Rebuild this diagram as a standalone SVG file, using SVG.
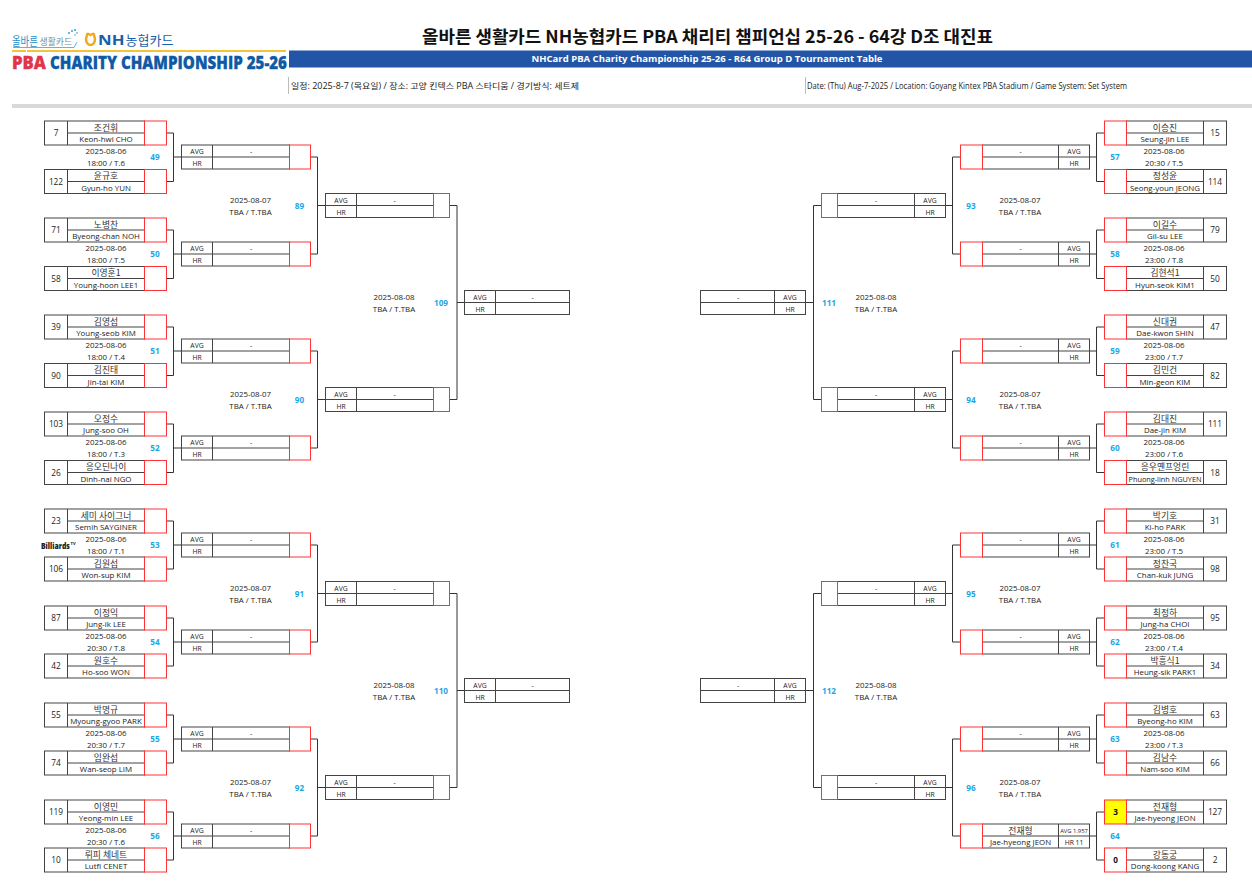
<svg xmlns="http://www.w3.org/2000/svg" xmlns:xlink="http://www.w3.org/1999/xlink" width="1252" height="896" viewBox="0 0 1252 896">
<style>
text{font-family:"Open Sans","Noto Sans CJK KR",sans-serif;fill:#222;text-anchor:middle}
.k{font-family:"Noto Sans CJK KR","Open Sans",sans-serif;font-size:8.8px;fill:#333}
.e{font-size:7.9px}
.s{font-size:8.3px}
.d{font-size:7.9px}
.a{font-size:6.8px}
.b{font-size:8.2px;font-weight:700;fill:#1ca6e6}
.w{font-weight:700;font-size:8.2px;fill:#111}
.f{fill:#fff;stroke:#444;stroke-width:1}
.r{fill:none;stroke:#f33;stroke-width:1}
.l{fill:none;stroke:#444;stroke-width:1}
.c{fill:none;stroke:#333;stroke-width:1}
.t{text-anchor:start}
</style>
<defs>
<g id="pl"><rect class="f" width="100" height="24"/><path class="l" d="M23 0V24M23 12H100"/><rect class="r" x="100" width="22" height="24"/></g>
<g id="pr"><rect class="f" x="22" width="100" height="24"/><path class="l" d="M99 0V24M22 12H99"/><rect class="r" width="22" height="24"/></g>
<g id="r32l"><rect class="f" width="108" height="24"/><path class="l" d="M31 0V24M0 12H108"/><rect class="r" x="108" width="21" height="24"/></g>
<g id="r32r"><rect class="f" x="22" width="107" height="24"/><path class="l" d="M98 0V24M22 12H129"/><rect class="r" width="22" height="24"/></g>
<g id="r16l"><rect class="f" width="108" height="24"/><path class="l" d="M31 0V24M0 12H108"/><rect class="r" x="108" width="16" height="24"/></g>
<g id="r16r"><rect class="f" x="16" width="108" height="24"/><path class="l" d="M93 0V24M16 12H124"/><rect class="r" width="16" height="24"/></g>
<g id="qfl"><rect class="f" width="105" height="24"/><path class="l" d="M31 0V24M0 12H105"/></g>
<g id="qfr"><rect class="f" width="105" height="24"/><path class="l" d="M74 0V24M0 12H105"/></g>
</defs>
<rect width="1252" height="896" fill="#fff"/>

<g id="header">
<text class="t" transform="translate(12,46) scale(.75,1)" style="font-family:'Noto Sans CJK KR',sans-serif;font-size:12.500px;fill:#2a8fc9">올바른</text>
<text class="t" x="39.500" y="45" style="font-family:'Noto Sans CJK KR',sans-serif;font-size:8.900px;fill:#6d8fa8">생활카드</text>
<path d="M13 47.500H74L77 42" fill="none" stroke="#2a8fc9" stroke-width=".7"/>
<g fill="#2a8fc9"><circle cx="69" cy="33" r=".9"/><circle cx="72" cy="31" r=".9"/><circle cx="75" cy="30" r=".9"/><circle cx="77" cy="33" r=".8"/><circle cx="75" cy="35" r=".7"/></g>
<path d="M87 35C87 33 89 34 90.500 35C92 34 94 33 94 35L95 39A4.500 6 0 0 1 86 39Z" fill="none" stroke="#f5a81c" stroke-width="2.500"/>
<text class="t" transform="translate(98,45) scale(1.2,1)" style="font-size:14px;font-weight:700;fill:#1a5fa8">NH</text>
<text class="t" x="125.500" y="45" style="font-family:'Noto Sans CJK KR',sans-serif;font-size:13px;fill:#1a5fa8">농협카드</text>
<path d="M12 51H26M27 51H286" stroke="#f3c33c" stroke-width="2" fill="none"/>
<text class="t" x="12" y="69" textLength="34" lengthAdjust="spacingAndGlyphs" style="font-size:17.500px;font-weight:800;fill:#e0344a;stroke:#e0344a;stroke-width:.3">PBA</text>
<text class="t" x="50" y="69" textLength="237" lengthAdjust="spacingAndGlyphs" style="font-size:17.500px;font-weight:800;fill:#0f5aa5;stroke:#0f5aa5;stroke-width:.3">CHARITY CHAMPIONSHIP 25-26</text>
<text class="t" x="422" y="43" textLength="571" lengthAdjust="spacingAndGlyphs" style="font-family:'Noto Sans CJK KR',sans-serif;font-size:17.500px;font-weight:700;fill:#111">올바른 생활카드 NH농협카드 PBA 채리티 챔피언십 25-26 - 64강 D조 대진표</text>
<rect x="289" y="50.500" width="963" height="17" fill="#2255a5"/>
<text x="707" y="62" textLength="351" lengthAdjust="spacingAndGlyphs" style="font-size:9px;font-weight:700;fill:#fff">NHCard PBA Charity Championship 25-26 - R64 Group D Tournament Table</text>
<rect x="288" y="77" width="1" height="17" fill="#bbb"/>
<text class="t" x="291" y="89" textLength="288" lengthAdjust="spacingAndGlyphs" style="font-size:8.200px">일정: 2025-8-7 (목요일) / 장소: 고양 킨텍스 PBA 스타디움 / 경기방식: 세트제</text>
<rect x="805" y="77" width="1" height="17" fill="#bbb"/>
<text class="t" x="807" y="89" textLength="320" lengthAdjust="spacingAndGlyphs" style="font-size:8.200px">Date: (Thu) Aug-7-2025 / Location: Goyang Kintex PBA Stadium / Game System: Set System</text>
<rect x="12" y="104" width="1240" height="4" fill="#d9d9d9"/>
</g>

<g id="connectors">
<path class="c" d="M166 133H173.500V181.500H166M173.500 157H181M166 230H173.500V278.500H166M173.500 254H181M166 327H173.500V375.500H166M173.500 351H181M166 424H173.500V472.500H166M173.500 448H181M166 521H173.500V569H166M173.500 545H181M166 618H173.500V666H166M173.500 642H181M166 715H173.500V763H166M173.500 739H181M166 812H173.500V860H166M173.500 836H181"/>
<path class="c" d="M310 157H317.500V254H310M317.500 205.500H325M310 351H317.500V448H310M317.500 399.500H325M310 545H317.500V642H310M317.500 593.500H325M310 739H317.500V836H310M317.500 787.500H325"/>
<path class="c" d="M449 205.500H457V399.500H449M457 302.500H464M449 593.500H457V787.500H449M457 690.500H464"/>
<path class="c" d="M1104 133H1096.500V181.500H1104M1096.500 157H1089M1104 230H1096.500V278.500H1104M1096.500 254H1089M1104 327H1096.500V375.500H1104M1096.500 351H1089M1104 424H1096.500V472.500H1104M1096.500 448H1089M1104 521H1096.500V569H1104M1096.500 545H1089M1104 618H1096.500V666H1104M1096.500 642H1089M1104 715H1096.500V763H1104M1096.500 739H1089M1104 812H1096.500V860H1104M1096.500 836H1089"/>
<path class="c" d="M960 157H952.500V254H960M952.500 205.500H945M960 351H952.500V448H960M952.500 399.500H945M960 545H952.500V642H960M952.500 593.500H945M960 739H952.500V836H960M952.500 787.500H945"/>
<path class="c" d="M821 205.500H813.500V399.500H821M813.500 302.500H806M821 593.500H813.500V787.500H821M813.500 690.500H806"/>
</g>

<g id="players-left">
<g id="p7" transform="translate(44.500,121)"><use href="#pl"/><text class="s" x="11.500" y="15">7</text><text class="k" x="61.500" y="9.500">조건휘</text><text class="e" x="61.500" y="21">Keon-hwi CHO</text></g>
<g id="p122" transform="translate(44.500,169.500)"><use href="#pl"/><text class="s" x="11.500" y="15">122</text><text class="k" x="61.500" y="9.500">윤규호</text><text class="e" x="61.500" y="21">Gyun-ho YUN</text></g>
<g id="p71" transform="translate(44.500,218)"><use href="#pl"/><text class="s" x="11.500" y="15">71</text><text class="k" x="61.500" y="9.500">노병찬</text><text class="e" x="61.500" y="21">Byeong-chan NOH</text></g>
<g id="p58" transform="translate(44.500,266.500)"><use href="#pl"/><text class="s" x="11.500" y="15">58</text><text class="k" x="61.500" y="9.500">이영훈1</text><text class="e" x="61.500" y="21">Young-hoon LEE1</text></g>
<g id="p39" transform="translate(44.500,315)"><use href="#pl"/><text class="s" x="11.500" y="15">39</text><text class="k" x="61.500" y="9.500">김영섭</text><text class="e" x="61.500" y="21">Young-seob KIM</text></g>
<g id="p90" transform="translate(44.500,363.500)"><use href="#pl"/><text class="s" x="11.500" y="15">90</text><text class="k" x="61.500" y="9.500">김진태</text><text class="e" x="61.500" y="21">Jin-tai KIM</text></g>
<g id="p103" transform="translate(44.500,412)"><use href="#pl"/><text class="s" x="11.500" y="15">103</text><text class="k" x="61.500" y="9.500">오정수</text><text class="e" x="61.500" y="21">Jung-soo OH</text></g>
<g id="p26" transform="translate(44.500,460.500)"><use href="#pl"/><text class="s" x="11.500" y="15">26</text><text class="k" x="61.500" y="9.500">응오딘나이</text><text class="e" x="61.500" y="21">Dinh-nai NGO</text></g>
<g id="p23" transform="translate(44.500,509)"><use href="#pl"/><text class="s" x="11.500" y="15">23</text><text class="k" x="61.500" y="9.500">세미 사이그너</text><text class="e" x="61.500" y="21">Semih SAYGINER</text></g>
<g id="p106" transform="translate(44.500,557)"><use href="#pl"/><text class="s" x="11.500" y="15">106</text><text class="k" x="61.500" y="9.500">김원섭</text><text class="e" x="61.500" y="21">Won-sup KIM</text></g>
<g id="p87" transform="translate(44.500,606)"><use href="#pl"/><text class="s" x="11.500" y="15">87</text><text class="k" x="61.500" y="9.500">이정익</text><text class="e" x="61.500" y="21">Jung-ik LEE</text></g>
<g id="p42" transform="translate(44.500,654)"><use href="#pl"/><text class="s" x="11.500" y="15">42</text><text class="k" x="61.500" y="9.500">원호수</text><text class="e" x="61.500" y="21">Ho-soo WON</text></g>
<g id="p55" transform="translate(44.500,703)"><use href="#pl"/><text class="s" x="11.500" y="15">55</text><text class="k" x="61.500" y="9.500">박명규</text><text class="e" x="61.500" y="21">Myoung-gyoo PARK</text></g>
<g id="p74" transform="translate(44.500,751)"><use href="#pl"/><text class="s" x="11.500" y="15">74</text><text class="k" x="61.500" y="9.500">임완섭</text><text class="e" x="61.500" y="21">Wan-seop LIM</text></g>
<g id="p119" transform="translate(44.500,800)"><use href="#pl"/><text class="s" x="11.500" y="15">119</text><text class="k" x="61.500" y="9.500">이영민</text><text class="e" x="61.500" y="21">Yeong-min LEE</text></g>
<g id="p10" transform="translate(44.500,848)"><use href="#pl"/><text class="s" x="11.500" y="15">10</text><text class="k" x="61.500" y="9.500">뤼피 체네트</text><text class="e" x="61.500" y="21">Lutfi CENET</text></g>
</g>

<g id="players-right">
<g id="p15" transform="translate(1104.500,121)"><use href="#pr"/><text class="s" x="110.500" y="15">15</text><text class="k" x="60.500" y="9.500">이승진</text><text class="e" x="60.500" y="21">Seung-jin LEE</text></g>
<g id="p114" transform="translate(1104.500,169.500)"><use href="#pr"/><text class="s" x="110.500" y="15">114</text><text class="k" x="60.500" y="9.500">정성윤</text><text class="e" x="60.500" y="21">Seong-youn JEONG</text></g>
<g id="p79" transform="translate(1104.500,218)"><use href="#pr"/><text class="s" x="110.500" y="15">79</text><text class="k" x="60.500" y="9.500">이길수</text><text class="e" x="60.500" y="21">Gil-su LEE</text></g>
<g id="p50" transform="translate(1104.500,266.500)"><use href="#pr"/><text class="s" x="110.500" y="15">50</text><text class="k" x="60.500" y="9.500">김현석1</text><text class="e" x="60.500" y="21">Hyun-seok KIM1</text></g>
<g id="p47" transform="translate(1104.500,315)"><use href="#pr"/><text class="s" x="110.500" y="15">47</text><text class="k" x="60.500" y="9.500">신대권</text><text class="e" x="60.500" y="21">Dae-kwon SHIN</text></g>
<g id="p82" transform="translate(1104.500,363.500)"><use href="#pr"/><text class="s" x="110.500" y="15">82</text><text class="k" x="60.500" y="9.500">김민건</text><text class="e" x="60.500" y="21">Min-geon KIM</text></g>
<g id="p111" transform="translate(1104.500,412)"><use href="#pr"/><text class="s" x="110.500" y="15">111</text><text class="k" x="60.500" y="9.500">김대진</text><text class="e" x="60.500" y="21">Dae-jin KIM</text></g>
<g id="p18" transform="translate(1104.500,460.500)"><use href="#pr"/><text class="s" x="110.500" y="15">18</text><text class="k" x="60.500" y="9.500">응우옌프엉린</text><text class="e" x="60.500" y="21" textLength="73" lengthAdjust="spacingAndGlyphs">Phuong-linh NGUYEN</text></g>
<g id="p31" transform="translate(1104.500,509)"><use href="#pr"/><text class="s" x="110.500" y="15">31</text><text class="k" x="60.500" y="9.500">박기호</text><text class="e" x="60.500" y="21">Ki-ho PARK</text></g>
<g id="p98" transform="translate(1104.500,557)"><use href="#pr"/><text class="s" x="110.500" y="15">98</text><text class="k" x="60.500" y="9.500">정찬국</text><text class="e" x="60.500" y="21">Chan-kuk JUNG</text></g>
<g id="p95" transform="translate(1104.500,606)"><use href="#pr"/><text class="s" x="110.500" y="15">95</text><text class="k" x="60.500" y="9.500">최정하</text><text class="e" x="60.500" y="21">Jung-ha CHOI</text></g>
<g id="p34" transform="translate(1104.500,654)"><use href="#pr"/><text class="s" x="110.500" y="15">34</text><text class="k" x="60.500" y="9.500">박흥식1</text><text class="e" x="60.500" y="21">Heung-sik PARK1</text></g>
<g id="p63" transform="translate(1104.500,703)"><use href="#pr"/><text class="s" x="110.500" y="15">63</text><text class="k" x="60.500" y="9.500">김병호</text><text class="e" x="60.500" y="21">Byeong-ho KIM</text></g>
<g id="p66" transform="translate(1104.500,751)"><use href="#pr"/><text class="s" x="110.500" y="15">66</text><text class="k" x="60.500" y="9.500">김남수</text><text class="e" x="60.500" y="21">Nam-soo KIM</text></g>
<g id="p127" transform="translate(1104.500,800)"><rect width="22" height="24" fill="#ff0"/><use href="#pr"/><text class="w" x="11" y="15">3</text><text class="s" x="110.500" y="15">127</text><text class="k" x="60.500" y="9.500">전재형</text><text class="e" x="60.500" y="21">Jae-hyeong JEON</text></g>
<g id="p2" transform="translate(1104.500,848)"><use href="#pr"/><text class="w" x="11" y="15">0</text><text class="s" x="110.500" y="15">2</text><text class="k" x="60.500" y="9.500">강동궁</text><text class="e" x="60.500" y="21">Dong-koong KANG</text></g>
</g>

<g id="round32-left">
<g id="m49" transform="translate(181.500,145)"><use href="#r32l"/><text class="a" x="15.500" y="9">AVG</text><text class="a" x="15.500" y="21">HR</text><text class="a" x="69.500" y="9">-</text><text class="d" x="-75.500" y="9">2025-08-06</text><text class="d" x="-75.500" y="21">18:00 / T.6</text><text class="b" x="-26.500" y="15">49</text></g>
<g id="m50" transform="translate(181.500,242)"><use href="#r32l"/><text class="a" x="15.500" y="9">AVG</text><text class="a" x="15.500" y="21">HR</text><text class="a" x="69.500" y="9">-</text><text class="d" x="-75.500" y="9">2025-08-06</text><text class="d" x="-75.500" y="21">18:00 / T.5</text><text class="b" x="-26.500" y="15">50</text></g>
<g id="m51" transform="translate(181.500,339)"><use href="#r32l"/><text class="a" x="15.500" y="9">AVG</text><text class="a" x="15.500" y="21">HR</text><text class="a" x="69.500" y="9">-</text><text class="d" x="-75.500" y="9">2025-08-06</text><text class="d" x="-75.500" y="21">18:00 / T.4</text><text class="b" x="-26.500" y="15">51</text></g>
<g id="m52" transform="translate(181.500,436)"><use href="#r32l"/><text class="a" x="15.500" y="9">AVG</text><text class="a" x="15.500" y="21">HR</text><text class="a" x="69.500" y="9">-</text><text class="d" x="-75.500" y="9">2025-08-06</text><text class="d" x="-75.500" y="21">18:00 / T.3</text><text class="b" x="-26.500" y="15">52</text></g>
<g id="m53" transform="translate(181.500,533)"><use href="#r32l"/><text class="a" x="15.500" y="9">AVG</text><text class="a" x="15.500" y="21">HR</text><text class="a" x="69.500" y="9">-</text><text class="d" x="-75.500" y="9">2025-08-06</text><text class="d" x="-75.500" y="21">18:00 / T.1</text><text class="b" x="-26.500" y="15">53</text></g>
<g id="m54" transform="translate(181.500,630)"><use href="#r32l"/><text class="a" x="15.500" y="9">AVG</text><text class="a" x="15.500" y="21">HR</text><text class="a" x="69.500" y="9">-</text><text class="d" x="-75.500" y="9">2025-08-06</text><text class="d" x="-75.500" y="21">20:30 / T.8</text><text class="b" x="-26.500" y="15">54</text></g>
<g id="m55" transform="translate(181.500,727)"><use href="#r32l"/><text class="a" x="15.500" y="9">AVG</text><text class="a" x="15.500" y="21">HR</text><text class="a" x="69.500" y="9">-</text><text class="d" x="-75.500" y="9">2025-08-06</text><text class="d" x="-75.500" y="21">20:30 / T.7</text><text class="b" x="-26.500" y="15">55</text></g>
<g id="m56" transform="translate(181.500,824)"><use href="#r32l"/><text class="a" x="15.500" y="9">AVG</text><text class="a" x="15.500" y="21">HR</text><text class="a" x="69.500" y="9">-</text><text class="d" x="-75.500" y="9">2025-08-06</text><text class="d" x="-75.500" y="21">20:30 / T.6</text><text class="b" x="-26.500" y="15">56</text></g>
</g>

<g id="round32-right">
<g id="m57" transform="translate(960.500,145)"><use href="#r32r"/><text class="a" x="113.500" y="9">AVG</text><text class="a" x="113.500" y="21">HR</text><text class="a" x="60" y="9">-</text><text class="d" x="203.500" y="9">2025-08-06</text><text class="d" x="203.500" y="21">20:30 / T.5</text><text class="b" x="154.500" y="15">57</text></g>
<g id="m58" transform="translate(960.500,242)"><use href="#r32r"/><text class="a" x="113.500" y="9">AVG</text><text class="a" x="113.500" y="21">HR</text><text class="a" x="60" y="9">-</text><text class="d" x="203.500" y="9">2025-08-06</text><text class="d" x="203.500" y="21">23:00 / T.8</text><text class="b" x="154.500" y="15">58</text></g>
<g id="m59" transform="translate(960.500,339)"><use href="#r32r"/><text class="a" x="113.500" y="9">AVG</text><text class="a" x="113.500" y="21">HR</text><text class="a" x="60" y="9">-</text><text class="d" x="203.500" y="9">2025-08-06</text><text class="d" x="203.500" y="21">23:00 / T.7</text><text class="b" x="154.500" y="15">59</text></g>
<g id="m60" transform="translate(960.500,436)"><use href="#r32r"/><text class="a" x="113.500" y="9">AVG</text><text class="a" x="113.500" y="21">HR</text><text class="a" x="60" y="9">-</text><text class="d" x="203.500" y="9">2025-08-06</text><text class="d" x="203.500" y="21">23:00 / T.6</text><text class="b" x="154.500" y="15">60</text></g>
<g id="m61" transform="translate(960.500,533)"><use href="#r32r"/><text class="a" x="113.500" y="9">AVG</text><text class="a" x="113.500" y="21">HR</text><text class="a" x="60" y="9">-</text><text class="d" x="203.500" y="9">2025-08-06</text><text class="d" x="203.500" y="21">23:00 / T.5</text><text class="b" x="154.500" y="15">61</text></g>
<g id="m62" transform="translate(960.500,630)"><use href="#r32r"/><text class="a" x="113.500" y="9">AVG</text><text class="a" x="113.500" y="21">HR</text><text class="a" x="60" y="9">-</text><text class="d" x="203.500" y="9">2025-08-06</text><text class="d" x="203.500" y="21">23:00 / T.4</text><text class="b" x="154.500" y="15">62</text></g>
<g id="m63" transform="translate(960.500,727)"><use href="#r32r"/><text class="a" x="113.500" y="9">AVG</text><text class="a" x="113.500" y="21">HR</text><text class="a" x="60" y="9">-</text><text class="d" x="203.500" y="9">2025-08-06</text><text class="d" x="203.500" y="21">23:00 / T.3</text><text class="b" x="154.500" y="15">63</text></g>
<g id="m64" transform="translate(960.500,824)"><use href="#r32r"/><text class="a" x="113.500" y="9" style="font-size:5.800px">AVG 1.957</text><text class="a" x="113.500" y="21">HR 11</text><text class="k" x="60" y="9.500">전재형</text><text class="e" x="60" y="21">Jae-hyeong JEON</text><text class="b" x="154.500" y="15">64</text></g>
</g>

<g id="round16-left">
<g id="m89" transform="translate(325.500,193.500)"><use href="#r16l"/><text class="a" x="15.500" y="9">AVG</text><text class="a" x="15.500" y="21">HR</text><text class="a" x="69" y="9">-</text><text class="d" x="-75" y="9.500">2025-08-07</text><text class="d" x="-75" y="21.500">TBA / T.TBA</text><text class="b" x="-26" y="15.500">89</text></g>
<g id="m90" transform="translate(325.500,387.500)"><use href="#r16l"/><text class="a" x="15.500" y="9">AVG</text><text class="a" x="15.500" y="21">HR</text><text class="a" x="69" y="9">-</text><text class="d" x="-75" y="9.500">2025-08-07</text><text class="d" x="-75" y="21.500">TBA / T.TBA</text><text class="b" x="-26" y="15.500">90</text></g>
<g id="m91" transform="translate(325.500,581.500)"><use href="#r16l"/><text class="a" x="15.500" y="9">AVG</text><text class="a" x="15.500" y="21">HR</text><text class="a" x="69" y="9">-</text><text class="d" x="-75" y="9.500">2025-08-07</text><text class="d" x="-75" y="21.500">TBA / T.TBA</text><text class="b" x="-26" y="15.500">91</text></g>
<g id="m92" transform="translate(325.500,775.500)"><use href="#r16l"/><text class="a" x="15.500" y="9">AVG</text><text class="a" x="15.500" y="21">HR</text><text class="a" x="69" y="9">-</text><text class="d" x="-75" y="9.500">2025-08-07</text><text class="d" x="-75" y="21.500">TBA / T.TBA</text><text class="b" x="-26" y="15.500">92</text></g>
</g>

<g id="round16-right">
<g id="m93" transform="translate(821.500,193.500)"><use href="#r16r"/><text class="a" x="108.500" y="9">AVG</text><text class="a" x="108.500" y="21">HR</text><text class="a" x="54.500" y="9">-</text><text class="d" x="198.500" y="9.500">2025-08-07</text><text class="d" x="198.500" y="21.500">TBA / T.TBA</text><text class="b" x="149.500" y="15.500">93</text></g>
<g id="m94" transform="translate(821.500,387.500)"><use href="#r16r"/><text class="a" x="108.500" y="9">AVG</text><text class="a" x="108.500" y="21">HR</text><text class="a" x="54.500" y="9">-</text><text class="d" x="198.500" y="9.500">2025-08-07</text><text class="d" x="198.500" y="21.500">TBA / T.TBA</text><text class="b" x="149.500" y="15.500">94</text></g>
<g id="m95" transform="translate(821.500,581.500)"><use href="#r16r"/><text class="a" x="108.500" y="9">AVG</text><text class="a" x="108.500" y="21">HR</text><text class="a" x="54.500" y="9">-</text><text class="d" x="198.500" y="9.500">2025-08-07</text><text class="d" x="198.500" y="21.500">TBA / T.TBA</text><text class="b" x="149.500" y="15.500">95</text></g>
<g id="m96" transform="translate(821.500,775.500)"><use href="#r16r"/><text class="a" x="108.500" y="9">AVG</text><text class="a" x="108.500" y="21">HR</text><text class="a" x="54.500" y="9">-</text><text class="d" x="198.500" y="9.500">2025-08-07</text><text class="d" x="198.500" y="21.500">TBA / T.TBA</text><text class="b" x="149.500" y="15.500">96</text></g>
</g>

<g id="round8">
<g id="m109" transform="translate(464.500,290.500)"><use href="#qfl"/><text class="a" x="15.500" y="9">AVG</text><text class="a" x="15.500" y="21">HR</text><text class="a" x="68" y="9">-</text><text class="d" x="-70.500" y="9.500">2025-08-08</text><text class="d" x="-70.500" y="21.500">TBA / T.TBA</text><text class="b" x="-23.500" y="15.500">109</text></g>
<g id="m110" transform="translate(464.500,678.500)"><use href="#qfl"/><text class="a" x="15.500" y="9">AVG</text><text class="a" x="15.500" y="21">HR</text><text class="a" x="68" y="9">-</text><text class="d" x="-70.500" y="9.500">2025-08-08</text><text class="d" x="-70.500" y="21.500">TBA / T.TBA</text><text class="b" x="-23.500" y="15.500">110</text></g>
<g id="m111" transform="translate(700.500,290.500)"><use href="#qfr"/><text class="a" x="89.500" y="9">AVG</text><text class="a" x="89.500" y="21">HR</text><text class="a" x="37.500" y="9">-</text><text class="d" x="175.500" y="9.500">2025-08-08</text><text class="d" x="175.500" y="21.500">TBA / T.TBA</text><text class="b" x="128.500" y="15.500">111</text></g>
<g id="m112" transform="translate(700.500,678.500)"><use href="#qfr"/><text class="a" x="89.500" y="9">AVG</text><text class="a" x="89.500" y="21">HR</text><text class="a" x="37.500" y="9">-</text><text class="d" x="175.500" y="9.500">2025-08-08</text><text class="d" x="175.500" y="21.500">TBA / T.TBA</text><text class="b" x="128.500" y="15.500">112</text></g>
</g>

<g id="billiards-tv">
<text class="t" transform="translate(41,549) scale(.72,1)" style="font-size:9.500px;font-weight:800;fill:#222">Billiards</text>
<text class="t" x="70.500" y="544.500" style="font-size:4.200px;font-weight:700;fill:#222">TV</text>
</g>
</svg>
